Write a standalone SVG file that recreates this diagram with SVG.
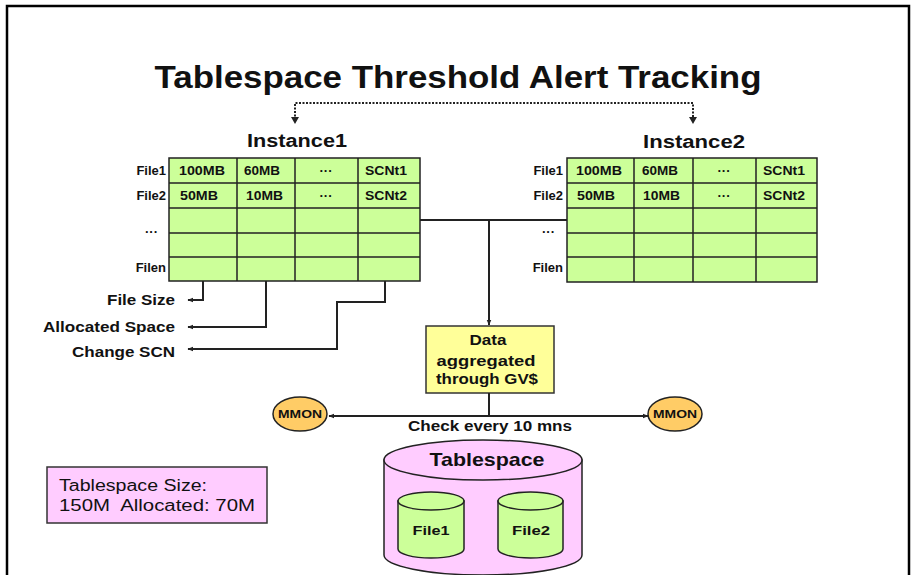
<svg xmlns="http://www.w3.org/2000/svg" width="915" height="575" viewBox="0 0 915 575">
<defs>
<style>
text{font-family:"Liberation Sans",Arial,sans-serif;font-weight:bold;fill:#111}
.cell{fill:#CCFF99;stroke:#222;stroke-width:1.5}
.grid{stroke:#222;stroke-width:1.5}
.t{font-size:13px}
.lbl{font-size:13px;text-anchor:end}
.conn{fill:none;stroke:#222;stroke-width:2}
.dot{fill:none;stroke:#222;stroke-width:2;stroke-dasharray:2 1.5}
</style>
<marker id="ah" viewBox="0 0 10 10" refX="9" refY="5" markerWidth="6" markerHeight="6" orient="auto" markerUnits="userSpaceOnUse">
<path d="M0,1 L10,5 L0,9 Z" fill="#222"/>
</marker>
</defs>
<rect x="0" y="0" width="915" height="575" fill="#fff"/>
<rect x="7" y="6" width="902" height="620" fill="none" stroke="#000" stroke-width="2.5"/>
<g id="title">
<text x="458" y="88" font-size="32" text-anchor="middle" textLength="607" lengthAdjust="spacingAndGlyphs">Tablespace Threshold Alert Tracking</text>
</g>
<g id="instance1">
<text x="297" y="147" font-size="18" text-anchor="middle" textLength="100" lengthAdjust="spacingAndGlyphs">Instance1</text>
<rect class="cell" x="169" y="158" width="251" height="123"/>
<path class="grid" d="M169,183H420M169,208H420M169,233H420M169,257H420M237,158V281M295,158V281M358,158V281"/>
<text class="t" x="179" y="175" textLength="46" lengthAdjust="spacingAndGlyphs">100MB</text>
<text class="t" x="244" y="175" textLength="36" lengthAdjust="spacingAndGlyphs">60MB</text>
<text class="t" x="326" y="175" text-anchor="middle">···</text>
<text class="t" x="365" y="175" textLength="42" lengthAdjust="spacingAndGlyphs">SCNt1</text>
<text class="t" x="180" y="200" textLength="38" lengthAdjust="spacingAndGlyphs">50MB</text>
<text class="t" x="246" y="200" textLength="37" lengthAdjust="spacingAndGlyphs">10MB</text>
<text class="t" x="326" y="200" text-anchor="middle">···</text>
<text class="t" x="365" y="200" textLength="42" lengthAdjust="spacingAndGlyphs">SCNt2</text>
<text class="lbl" x="166" y="175">File1</text>
<text class="lbl" x="166" y="200">File2</text>
<text class="lbl" x="158" y="236">···</text>
<text class="lbl" x="166" y="272">Filen</text>
</g>
<g id="instance2">
<text x="694" y="148" font-size="18" text-anchor="middle" textLength="102" lengthAdjust="spacingAndGlyphs">Instance2</text>
<rect class="cell" x="567" y="158" width="250" height="124"/>
<path class="grid" d="M567,183H817M567,208H817M567,233H817M567,257H817M634,158V282M693,158V282M756,158V282"/>
<text class="t" x="576" y="175" textLength="46" lengthAdjust="spacingAndGlyphs">100MB</text>
<text class="t" x="642" y="175" textLength="36" lengthAdjust="spacingAndGlyphs">60MB</text>
<text class="t" x="724" y="175" text-anchor="middle">···</text>
<text class="t" x="763" y="175" textLength="42" lengthAdjust="spacingAndGlyphs">SCNt1</text>
<text class="t" x="577" y="200" textLength="38" lengthAdjust="spacingAndGlyphs">50MB</text>
<text class="t" x="643" y="200" textLength="37" lengthAdjust="spacingAndGlyphs">10MB</text>
<text class="t" x="724" y="200" text-anchor="middle">···</text>
<text class="t" x="763" y="200" textLength="42" lengthAdjust="spacingAndGlyphs">SCNt2</text>
<text class="lbl" x="563" y="175">File1</text>
<text class="lbl" x="563" y="200">File2</text>
<text class="lbl" x="555" y="236">···</text>
<text class="lbl" x="563" y="272">Filen</text>
</g>
<g id="legend-labels">
<text x="175" y="305" font-size="14" text-anchor="end" textLength="68" lengthAdjust="spacingAndGlyphs">File Size</text>
<text x="175" y="332" font-size="14" text-anchor="end" textLength="132" lengthAdjust="spacingAndGlyphs">Allocated Space</text>
<text x="175" y="357" font-size="14" text-anchor="end" textLength="103" lengthAdjust="spacingAndGlyphs">Change SCN</text>
</g>
<g id="aggregate">
<rect x="426" y="326" width="128" height="67" fill="#FFFF99" stroke="#333" stroke-width="1.5"/>
<text x="488" y="345" font-size="14" text-anchor="middle" textLength="37" lengthAdjust="spacingAndGlyphs">Data</text>
<text x="486" y="366" font-size="14" text-anchor="middle" textLength="99" lengthAdjust="spacingAndGlyphs">aggregated</text>
<text x="487" y="384" font-size="14" text-anchor="middle" textLength="102" lengthAdjust="spacingAndGlyphs">through GV$</text>
</g>
<g id="mmon1">
<ellipse cx="300" cy="414" rx="27" ry="17" fill="#FFCC66" stroke="#222" stroke-width="1.5"/>
<text x="300" y="418" font-size="11" text-anchor="middle" textLength="44" lengthAdjust="spacingAndGlyphs">MMON</text>
</g>
<g id="mmon2">
<ellipse cx="675" cy="414" rx="27" ry="17" fill="#FFCC66" stroke="#222" stroke-width="1.5"/>
<text x="675" y="418" font-size="11" text-anchor="middle" textLength="44" lengthAdjust="spacingAndGlyphs">MMON</text>
</g>
<g id="check-label">
<text x="490" y="431" font-size="14" text-anchor="middle" textLength="164" lengthAdjust="spacingAndGlyphs">Check every 10 mns</text>
</g>
<g id="size-box">
<rect x="47" y="467" width="220" height="56" fill="#FFCCFF" stroke="#333" stroke-width="1.5"/>
<text x="59" y="491" font-size="16" textLength="148" lengthAdjust="spacingAndGlyphs" style="font-weight:normal">Tablespace Size:</text>
<text x="59" y="511" font-size="16" textLength="196" lengthAdjust="spacingAndGlyphs" style="font-weight:normal">150M&#160; Allocated: 70M</text>
</g>
<g id="tablespace">
<path d="M384,460 V555 A99,20 0 0 0 582,555 V460 Z" fill="#FFCCFF" stroke="#222" stroke-width="1.5"/>
<ellipse cx="483" cy="460" rx="99" ry="20" fill="#FFCCFF" stroke="#222" stroke-width="1.5"/>
<text x="487" y="466" font-size="19" text-anchor="middle" textLength="115" lengthAdjust="spacingAndGlyphs">Tablespace</text>
<g id="file1">
<path d="M398,501 V549 A33,9 0 0 0 464,549 V501 Z" fill="#CCFF99" stroke="#222" stroke-width="1.5"/>
<ellipse cx="431" cy="501" rx="33" ry="9" fill="#CCFF99" stroke="#222" stroke-width="1.5"/>
<text x="431" y="535" font-size="13" text-anchor="middle" textLength="37" lengthAdjust="spacingAndGlyphs">File1</text>
</g>
<g id="file2">
<path d="M498,501 V549 A32.5,9 0 0 0 563,549 V501 Z" fill="#CCFF99" stroke="#222" stroke-width="1.5"/>
<ellipse cx="530.5" cy="501" rx="32.5" ry="9" fill="#CCFF99" stroke="#222" stroke-width="1.5"/>
<text x="531" y="535" font-size="13" text-anchor="middle" textLength="38" lengthAdjust="spacingAndGlyphs">File2</text>
</g>
</g>
<g id="connectors">
<path class="dot" d="M295,120 V103 H693 V120"/>
<path d="M291,117 L295,124 L299,117 Z M689,117 L693,124 L697,117 Z" fill="#222"/>
<path class="conn" d="M420,220 H567"/>
<path class="conn" d="M489,220 V325" marker-end="url(#ah)"/>
<path class="conn" d="M203,281 V300 H188" marker-end="url(#ah)"/>
<path class="conn" d="M266,281 V327 H188" marker-end="url(#ah)"/>
<path class="conn" d="M385,281 V302 H337 V349 H188" marker-end="url(#ah)"/>
<path class="conn" d="M489,393 V416"/>
<path class="conn" d="M489,416 H329" marker-end="url(#ah)"/>
<path class="conn" d="M489,416 H648" marker-end="url(#ah)"/>
</g>
</svg>
